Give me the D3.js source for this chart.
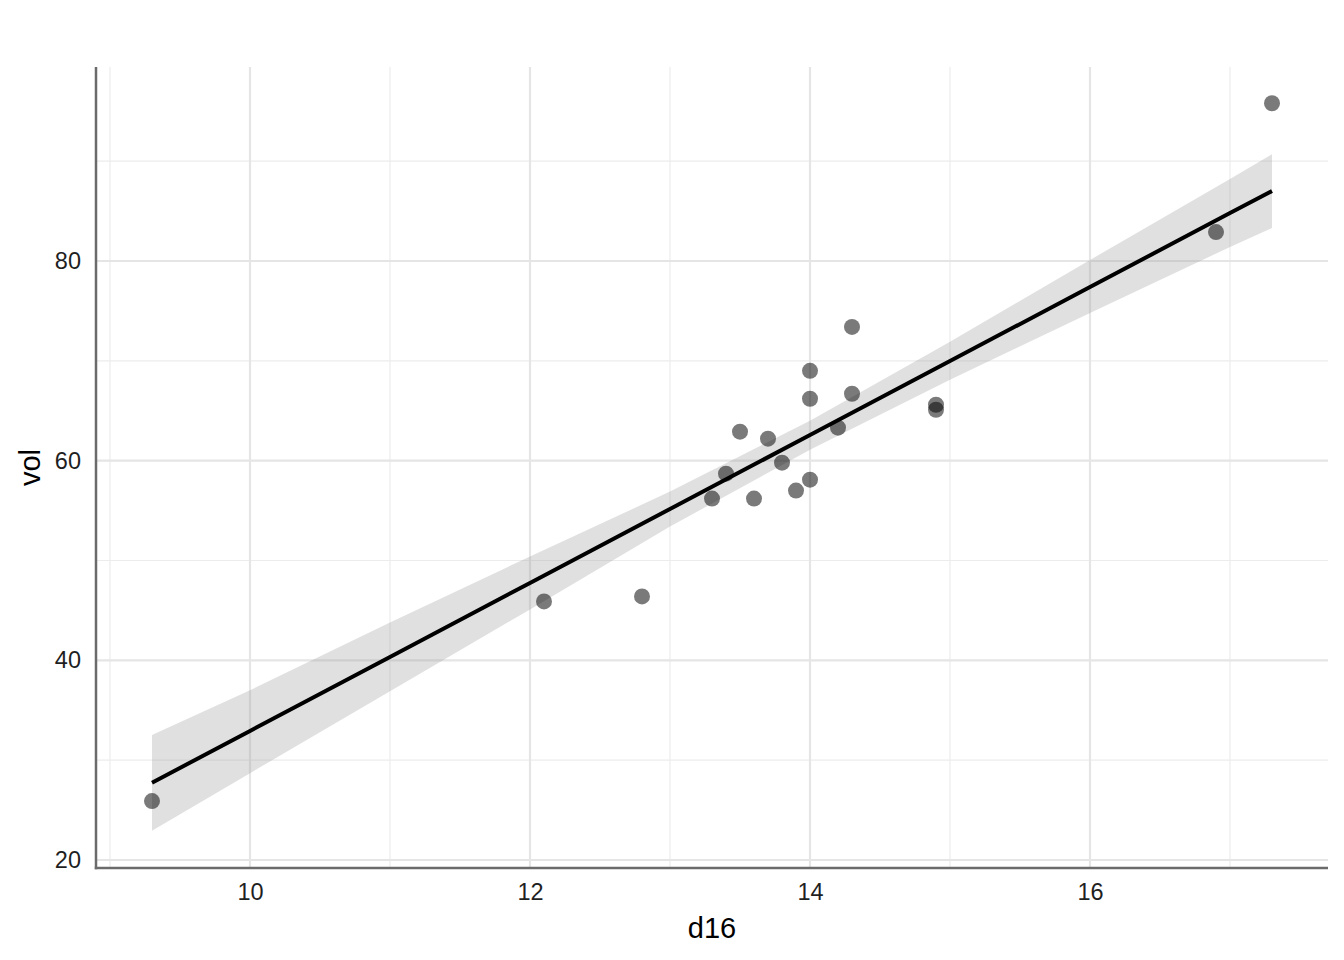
<!DOCTYPE html>
<html>
<head>
<meta charset="utf-8">
<script src="https://cdn.jsdelivr.net/npm/d3@7"></script>
<style>
  body { margin: 0; background: #fff; }
  text { font-family: 'Liberation Sans', Arial, sans-serif; }
</style>
</head>
<body>
<div id="chart"></div>
<script>
const d16 = [9.3, 12.1, 12.8, 13.3, 13.4, 13.5, 13.6, 13.7, 13.8, 13.9,
  14.0, 14.0, 14.0, 14.2, 14.3, 14.3, 14.9, 14.9, 16.9, 17.3];
const vol = [25.9, 45.9, 46.4, 56.2, 58.7, 62.9, 56.2, 62.2, 59.8, 57.0,
  69.0, 66.2, 58.1, 63.3, 73.4, 66.7, 65.6, 65.1, 82.9, 95.8];

// fitted line and confidence band
const fitX = [9.3, 10, 11, 12, 13, 14, 15, 16, 17, 17.3];
const fitY = [27.74, 32.93, 40.34, 47.75, 55.16, 62.57, 69.98, 77.39, 84.8, 87.0];
const fitLo = [22.94, 28.7, 36.9, 45.1, 53.4, 61.1, 68.1, 74.8, 81.4, 83.3];
const fitHi = [32.52, 37.0, 43.8, 50.4, 56.9, 64.0, 71.9, 80.1, 88.2, 90.7];

const xMajor = [10, 12, 14, 16];
const xMinor = [9, 11, 13, 15, 17];
const yMajor = [20, 40, 60, 80];
const yMinor = [30, 50, 70, 90];

const width = 1344, height = 960;
const margin = { top: 67, right: 16, bottom: 92, left: 96 };

const svg = d3.select('#chart').append('svg')
  .attr('width', width)
  .attr('height', height);

const x = d3.scaleLinear()
  .domain([8.9, 17.7])
  .range([margin.left, width - margin.right]);
const y = d3.scaleLinear()
  .domain([19.2, 99.43])
  .range([height - margin.bottom, margin.top]);

// grid
function vGrid(vals, color, w) {
  svg.append('g')
    .selectAll('line')
    .data(vals)
    .join('line')
    .attr('x1', d => x(d)).attr('x2', d => x(d))
    .attr('y1', y.range()[0]).attr('y2', y.range()[1])
    .attr('stroke', color).attr('stroke-width', w);
}
function hGrid(vals, color, w) {
  svg.append('g')
    .selectAll('line')
    .data(vals)
    .join('line')
    .attr('x1', x.range()[0]).attr('x2', x.range()[1])
    .attr('y1', d => y(d)).attr('y2', d => y(d))
    .attr('stroke', color).attr('stroke-width', w);
}
vGrid(xMinor, '#ececec', 1.2);
hGrid(yMinor, '#ececec', 1.2);
vGrid(xMajor, '#e5e5e5', 2.2);
hGrid(yMajor, '#e5e5e5', 2.2);

const fit = fitX.map((v, i) => ({ x: v, y: fitY[i], lo: fitLo[i], hi: fitHi[i] }));

svg.append('path')
  .datum(fit)
  .attr('fill', '#999999')
  .attr('fill-opacity', 0.3)
  .attr('d', d3.area().x(d => x(d.x)).y0(d => y(d.lo)).y1(d => y(d.hi)));

svg.append('path')
  .datum(fit)
  .attr('fill', 'none')
  .attr('stroke', '#000')
  .attr('stroke-width', 4)
  .attr('d', d3.line().x(d => x(d.x)).y(d => y(d.y)));

// points
svg.append('g')
  .selectAll('circle')
  .data(d16)
  .join('circle')
  .attr('cx', d => x(d))
  .attr('cy', (d, i) => y(vol[i]))
  .attr('r', 8)
  .attr('fill', '#000')
  .attr('fill-opacity', 0.52);

// axis lines
svg.append('line')
  .attr('x1', x.range()[0]).attr('x2', x.range()[0])
  .attr('y1', y.range()[1]).attr('y2', y.range()[0] + 1.2)
  .attr('stroke', '#6b6b6b').attr('stroke-width', 2.5);
svg.append('line')
  .attr('x1', x.range()[0] - 1.2).attr('x2', x.range()[1])
  .attr('y1', y.range()[0]).attr('y2', y.range()[0])
  .attr('stroke', '#6b6b6b').attr('stroke-width', 2.5);

// tick labels
const xAxis = svg.append('g')
  .attr('transform', `translate(0, ${height - margin.bottom})`)
  .call(d3.axisBottom(x).tickValues(xMajor).tickSize(0).tickPadding(15));
const yAxis = svg.append('g')
  .attr('transform', `translate(${margin.left}, 0)`)
  .call(d3.axisLeft(y).tickValues(yMajor).tickSize(0).tickPadding(15));
[xAxis, yAxis].forEach(g => {
  g.select('.domain').remove();
  g.selectAll('text')
    .attr('font-size', '23.5px')
    .attr('font-family', "'Liberation Sans', Arial, sans-serif")
    .attr('fill', '#1f1f1f');
});

// axis titles
svg.append('text')
  .attr('x', (x.range()[0] + x.range()[1]) / 2)
  .attr('y', 938)
  .attr('text-anchor', 'middle')
  .attr('font-size', '29px')
  .attr('fill', '#000')
  .text('d16');
svg.append('text')
  .attr('transform', `translate(40, ${(y.range()[0] + y.range()[1]) / 2}) rotate(-90)`)
  .attr('text-anchor', 'middle')
  .attr('font-size', '29px')
  .attr('fill', '#000')
  .text('vol');
</script>
</body>
</html>
